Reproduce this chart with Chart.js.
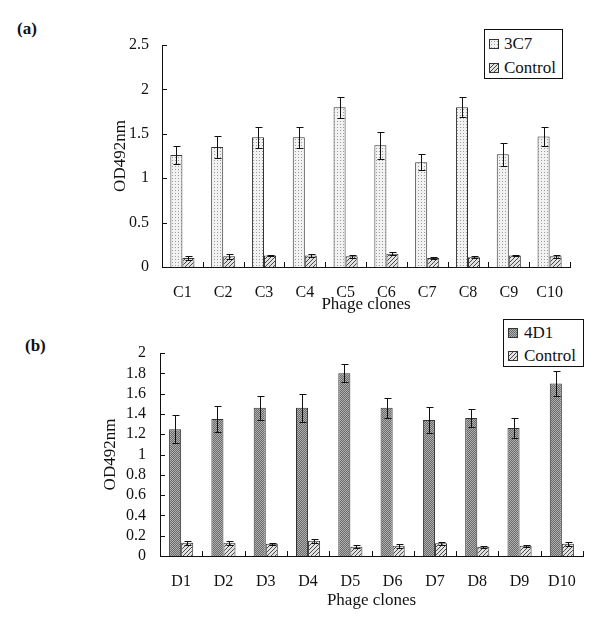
<!DOCTYPE html>
<html>
<head>
<meta charset="utf-8">
<script src="https://cdn.jsdelivr.net/npm/chart.js@4"></script>
<style>
  body { margin: 0; background: #fff; width: 600px; height: 628px; position: relative; overflow: hidden; }
  canvas { position: absolute; left: 0; }
  .tag { position: absolute; font: bold 17px "Liberation Serif", "Times New Roman", serif; color: #111; }
  .legend { position: absolute; box-sizing: border-box; border: 1px solid #111; background: #fff;
            font: 17px "Liberation Serif", "Times New Roman", serif; color: #111; }
  .legend .row { position: absolute; left: 0; right: 0; height: 20px; line-height: 20px; }
  .legend .sw { position: absolute; top: 5px; width: 10px; height: 10px; box-sizing: border-box; border: 1px solid #333; }
  .legend .txt { position: absolute; top: 0; white-space: nowrap; }
</style>
</head>
<body>
<div class="tag" style="left:17px;top:19px">(a)</div>
<div class="tag" style="left:25px;top:336px">(b)</div>
<canvas id="chartA" width="600" height="315" style="top:0"></canvas>
<canvas id="chartB" width="600" height="313" style="top:315px"></canvas>
<div class="legend" id="legendA" style="left:484px;top:29px;width:79px;height:50px"></div>
<div class="legend" id="legendB" style="left:503px;top:319px;width:81px;height:48px"></div>
<script>
// panel (a)
const clonesA = ['C1', 'C2', 'C3', 'C4', 'C5', 'C6', 'C7', 'C8', 'C9', 'C10'];
const od3C7 = [1.26, 1.35, 1.46, 1.46, 1.80, 1.37, 1.18, 1.80, 1.27, 1.47];
const err3C7 = [0.10, 0.12, 0.12, 0.12, 0.12, 0.15, 0.09, 0.11, 0.13, 0.11];
const odCtrlA = [0.10, 0.12, 0.13, 0.13, 0.12, 0.15, 0.10, 0.11, 0.13, 0.12];
const errCtrlA = [0.02, 0.03, 0.01, 0.02, 0.015, 0.02, 0.01, 0.01, 0.01, 0.02];
const ticksA = [0, 0.5, 1, 1.5, 2, 2.5];

// panel (b)
const clonesB = ['D1', 'D2', 'D3', 'D4', 'D5', 'D6', 'D7', 'D8', 'D9', 'D10'];
const od4D1 = [1.25, 1.35, 1.46, 1.46, 1.80, 1.46, 1.34, 1.36, 1.26, 1.70];
const err4D1 = [0.14, 0.13, 0.12, 0.14, 0.09, 0.10, 0.13, 0.09, 0.10, 0.12];
const odCtrlB = [0.13, 0.13, 0.12, 0.15, 0.09, 0.10, 0.125, 0.09, 0.10, 0.12];
const errCtrlB = [0.02, 0.02, 0.01, 0.02, 0.015, 0.02, 0.015, 0.01, 0.01, 0.02];
const ticksB = [0, 0.2, 0.4, 0.6, 0.8, 1, 1.2, 1.4, 1.6, 1.8, 2];

Chart.defaults.font.family = "'Liberation Serif', 'Times New Roman', serif";
Chart.defaults.color = '#111';

// small fill tiles, used both for the bars and the legend swatches
function makeTile(kind) {
    const c = document.createElement('canvas');
    const g = c.getContext('2d');
    if (kind === 'dots') {
        c.width = 3; c.height = 3;
        g.fillStyle = '#f2f2f2';
        g.fillRect(0, 0, 3, 3);
        g.fillStyle = '#999';
        g.fillRect(1, 1, 1, 1);
    } else if (kind === 'hatch') {
        c.width = 4; c.height = 4;
        g.fillStyle = '#e2e2e2';
        g.fillRect(0, 0, 4, 4);
        g.fillStyle = '#4a4a4a';
        for (let i = 0; i < 4; i++) g.fillRect(i, 3 - i, 1, 1);
    } else {
        c.width = 2; c.height = 2;
        g.fillStyle = '#b0b0b0';
        g.fillRect(0, 0, 2, 2);
        g.fillStyle = '#6a6a6a';
        g.fillRect(0, 0, 1, 1);
        g.fillRect(1, 1, 1, 1);
    }
    return c;
}

const errorBars = {
    id: 'errorBars',
    afterDatasetsDraw(chart) {
        const ctx = chart.ctx;
        const y = chart.scales.y;
        ctx.save();
        ctx.strokeStyle = '#111';
        ctx.lineWidth = 1;
        chart.data.datasets.forEach((ds, i) => {
            chart.getDatasetMeta(i).data.forEach((bar, j) => {
                const v = ds.data[j], e = ds.errors[j];
                const x = Math.round(bar.x) + 0.5;
                const top = Math.round(y.getPixelForValue(v + e)) + 0.5;
                const bot = Math.round(y.getPixelForValue(v - e)) + 0.5;
                ctx.beginPath();
                ctx.moveTo(x, top); ctx.lineTo(x, bot);
                ctx.moveTo(x - 3, top); ctx.lineTo(x + 4, top);
                ctx.moveTo(x - 3, bot); ctx.lineTo(x + 4, bot);
                ctx.stroke();
            });
        });
        ctx.restore();
    }
};

// small tick marks pointing into the plot
const innerTicks = {
    id: 'innerTicks',
    afterDraw(chart) {
        const { ctx, chartArea: a, scales: { x, y } } = chart;
        ctx.save();
        ctx.strokeStyle = '#111';
        ctx.lineWidth = 1;
        ctx.beginPath();
        y.ticks.forEach(t => {
            const py = Math.round(y.getPixelForValue(t.value)) + 0.5;
            ctx.moveTo(a.left, py); ctx.lineTo(a.left + 5, py);
        });
        const n = x.ticks.length, step = (a.right - a.left) / n;
        for (let i = 1; i <= n; i++) {
            const px = Math.round(a.left + i * step) + 0.5;
            ctx.moveTo(px, a.bottom); ctx.lineTo(px, a.bottom - 5);
        }
        ctx.stroke();
        ctx.restore();
    }
};

function makeChart(id, labels, sets, yTicks, lay) {
    return new Chart(document.getElementById(id), {
        type: 'bar',
        data: {
            labels: labels,
            datasets: sets.map(s => ({
                label: s.label,
                data: s.data,
                errors: s.errors,
                swatch: s.tile.toDataURL(),
                backgroundColor: document.createElement('canvas').getContext('2d').createPattern(s.tile, 'repeat'),
                borderColor: '#333',
                borderWidth: 1,
                categoryPercentage: lay.cat,
                barPercentage: 1,
            })),
        },
        options: {
            responsive: false,
            animation: false,
            layout: { padding: { left: lay.padLeft, right: lay.padRight, top: lay.padTop, bottom: 0 } },
            plugins: { legend: { display: false }, tooltip: { enabled: false } },
            scales: {
                x: {
                    grid: { display: false, drawTicks: false },
                    border: { color: '#111' },
                    ticks: { font: { size: 16 }, padding: 16, maxRotation: 0, autoSkip: false },
                    title: { display: true, text: 'Phage clones', font: { size: 17 }, padding: { top: 0, bottom: lay.titleBottom } },
                    afterFit: s => { s.height = lay.xHeight; },
                },
                y: {
                    min: 0,
                    max: yTicks[yTicks.length - 1],
                    grid: { display: false, drawTicks: false },
                    border: { color: '#111' },
                    ticks: { font: { size: 16 }, padding: lay.yPad, autoSkip: false, callback: v => String(v) },
                    afterBuildTicks: s => { s.ticks = yTicks.map(v => ({ value: v })); },
                    title: { display: true, text: 'OD492nm', font: { size: 17 }, padding: { top: 3, bottom: 0 } },
                    afterFit: s => { s.width = lay.yWidth; },
                },
            },
        },
        plugins: [errorBars, innerTicks],
    });
}

// legend box as html, filled from the chart's datasets
function fillLegend(chart, boxId, rows) {
    const box = document.getElementById(boxId);
    chart.data.datasets.forEach((ds, i) => {
        const row = document.createElement('div');
        row.className = 'row';
        row.style.top = rows.tops[i] + 'px';
        row.innerHTML = `<span class="sw" style="left:${rows.swatch}px;background-image:url(${ds.swatch})"></span>` +
            `<span class="txt" style="left:${rows.text}px">${ds.label}</span>`;
        box.appendChild(row);
    });
}

const chartA = makeChart('chartA', clonesA, [
    { label: '3C7', data: od3C7, errors: err3C7, tile: makeTile('dots') },
    { label: 'Control', data: odCtrlA, errors: errCtrlA, tile: makeTile('hatch') },
], ticksA, {
    cat: 0.59, padLeft: 107, yWidth: 55, padRight: 30, padTop: 45, xHeight: 48, titleBottom: 0, yPad: 13,
});
fillLegend(chartA, 'legendA', { tops: [4, 28], swatch: 4, text: 19 });

const chartB = makeChart('chartB', clonesB, [
    { label: '4D1', data: od4D1, errors: err4D1, tile: makeTile('grid') },
    { label: 'Control', data: odCtrlB, errors: errCtrlB, tile: makeTile('hatch') },
], ticksB, {
    cat: 0.57, padLeft: 97, yWidth: 63, padRight: 17, padTop: 38, xHeight: 72, titleBottom: 17, yPad: 14,
});
fillLegend(chartB, 'legendB', { tops: [3, 26], swatch: 4, text: 20 });
</script>
</body>
</html>
